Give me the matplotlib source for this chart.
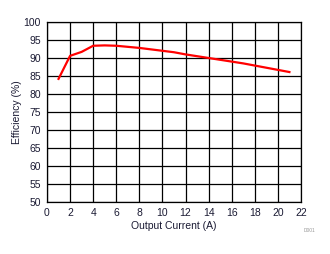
import matplotlib
matplotlib.use("Agg")
import matplotlib.pyplot as plt

# Efficiency vs output current
current = [1, 2, 3, 4, 5, 6, 7, 8, 9, 10, 11, 12, 13, 14, 15, 16, 17, 18, 19, 20, 21]
efficiency = [84.2, 90.6, 91.7, 93.4, 93.5, 93.4, 93.1, 92.8, 92.4, 92.0, 91.6,
              91.0, 90.5, 90.0, 89.5, 89.0, 88.5, 87.9, 87.3, 86.7, 86.1]

x_ticks = list(range(0, 23, 2))
y_ticks = list(range(50, 101, 5))

plt.rcParams['font.family'] = ['Liberation Sans', 'DejaVu Sans']

fig = plt.figure(figsize=(3.3, 2.54), dpi=100)
ax = fig.add_axes([0.1424, 0.2047, 0.7696, 0.7087])

ax.plot(current, efficiency, color='#ff0000', linewidth=1.6, zorder=3)

ax.set_xlim(0, 22)
ax.set_ylim(50, 100)
ax.set_xticks(x_ticks)
ax.set_yticks(y_ticks)
ax.tick_params(length=0, labelsize=7.5, pad=4.5, colors='#1a1a33')
ax.grid(True, color='black', linewidth=0.9)
for s in ax.spines.values():
    s.set_color('black')
    s.set_linewidth(0.9)

ax.set_xlabel("Output Current (A)", fontsize=7.5, labelpad=2, color='#1a1a33')
ax.set_ylabel("Efficiency (%)", fontsize=7.5, labelpad=1, color='#1a1a33')

fig.text(0.955, 0.085, "D001", fontsize=3.5, color='#999999', ha='right')

fig.savefig("out.png", dpi=100)
